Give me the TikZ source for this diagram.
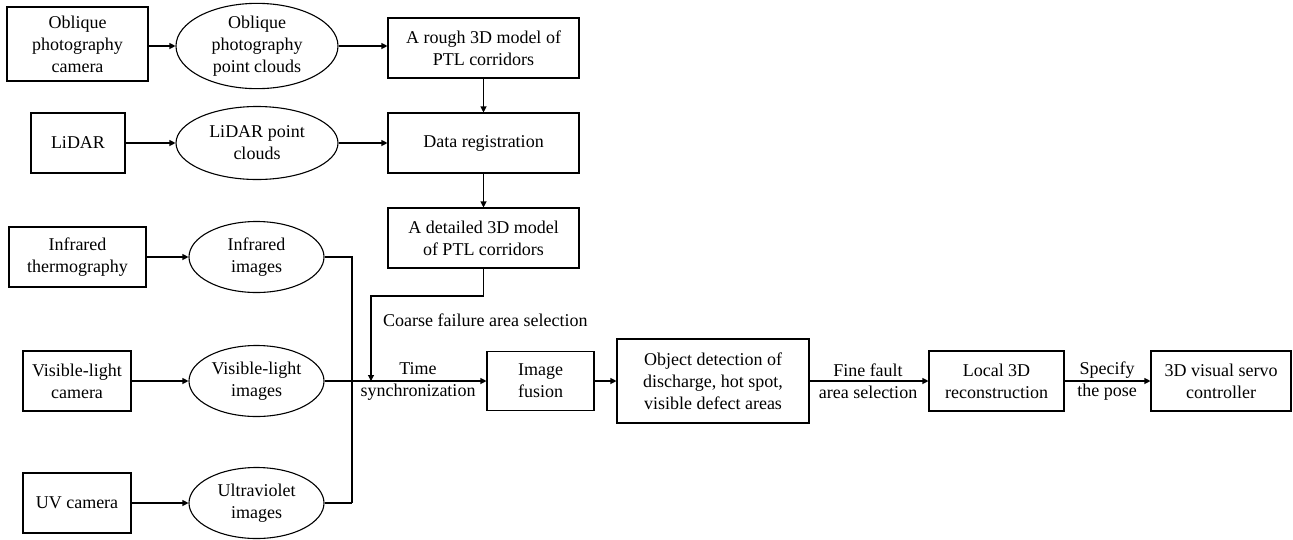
\documentclass[tikz,border=0pt]{standalone}
\usepackage{fontspec}
\setmainfont{Liberation Serif}
\usetikzlibrary{shapes.geometric,arrows.meta,calc}

\begin{document}
\begin{tikzpicture}[x=1pt,y=-1pt,
  txt/.style={font=\fontsize{18pt}{22pt}\selectfont, align=center, inner sep=0pt},
  box/.style={txt, draw, line width=1.1pt, rectangle},
  oval/.style={txt, draw, line width=1.1pt, ellipse},
  line/.style={line width=1.1pt},
  arr/.style={line, -{Triangle[length=6pt,width=6pt]}}
]
\useasboundingbox (0,0) rectangle (1293,539);

% --- sensors (left column) ---
\node[box, minimum width=141pt, minimum height=74pt] (cam1) at (77.5,44) {Oblique\\photography\\camera};
\node[box, minimum width=94pt, minimum height=60pt] (lidar) at (78,143) {LiDAR};
\node[box, minimum width=137pt, minimum height=60pt] (ir) at (77.5,257) {Infrared\\thermography};
\node[box, minimum width=108pt, minimum height=60pt] (vis) at (77,381) {Visible-light\\camera};
\node[box, minimum width=108pt, minimum height=60pt] (uv) at (77,503) {UV camera};

% --- sensor outputs (ellipses) ---
\node[oval, minimum width=162pt, minimum height=84pt] (pc1) at (257,46) {Oblique\\photography\\point clouds};
\node[oval, minimum width=162pt, minimum height=73pt] (pc2) at (257,143) {LiDAR point\\clouds};
\node[oval, minimum width=135pt, minimum height=71pt] (ie) at (256.5,257) {Infrared\\images};
\node[oval, minimum width=135pt, minimum height=71pt] (ve) at (256.5,381) {Visible-light\\images};
\node[oval, minimum width=135pt, minimum height=71pt] (ue) at (256.5,503) {Ultraviolet\\images};

% --- 3D model chain ---
\node[box, minimum width=191pt, minimum height=60pt] (rough) at (483.5,48) {A rough 3D model of\\PTL corridors};
\node[box, minimum width=191pt, minimum height=60pt] (reg) at (483.5,143) {Data registration};
\node[box, minimum width=191pt, minimum height=60pt] (det) at (483.5,238) {A detailed 3D model\\ of PTL corridors};

% --- image processing chain ---
\node[box, minimum width=107pt, minimum height=59pt] (fus) at (540.5,381) {Image\\fusion};
\node[box, minimum width=192pt, minimum height=84pt] (obj) at (713,381) {Object detection of\\discharge, hot spot,\\visible defect areas};
\node[box, minimum width=135pt, minimum height=60pt] (loc) at (996.5,381) {Local 3D\\reconstruction};
\node[box, minimum width=140pt, minimum height=60pt] (servo) at (1221,381) {3D visual servo\\controller};

% --- edge labels ---
\node[txt, anchor=west] (lcoarse) at (383,320) {Coarse failure area selection};
\node[txt] (lsync) at (418,381) {Time\\synchronization};
\node[txt] (lfine) at (868,381) {Fine fault\\area selection};
\node[txt] (lpose) at (1107,381) {Specify\\the pose};

% --- helper points ---
\coordinate (jbot) at (352,503);
\coordinate (cbend) at (371,296);

% --- connectors ---
\draw[arr] (cam1.east |- pc1.west) -- (pc1.west);
\draw[arr] (pc1.east) -- (rough.west |- pc1.east);
\draw[arr] (lidar.east) -- (pc2.west);
\draw[arr] (pc2.east) -- (reg.west);
\draw[arr] (rough.south) -- (reg.north);
\draw[arr] (reg.south) -- (det.north);
\draw[arr] (ir.east) -- (ie.west);
\draw[arr] (vis.east) -- (ve.west);
\draw[arr] (uv.east) -- (ue.west);

\draw[line] (ie.east) -| (jbot);
\draw[line] (ue.east) -- (jbot);
\draw[arr] (ve.east) -- (fus.west);
\draw[arr] (det.south) |- (cbend) -- (cbend |- ve.east);

\draw[arr] (fus.east) -- (obj.west);
\draw[arr] (obj.east) -- (loc.west);
\draw[arr] (loc.east) -- (servo.west);
\end{tikzpicture}
\end{document}
